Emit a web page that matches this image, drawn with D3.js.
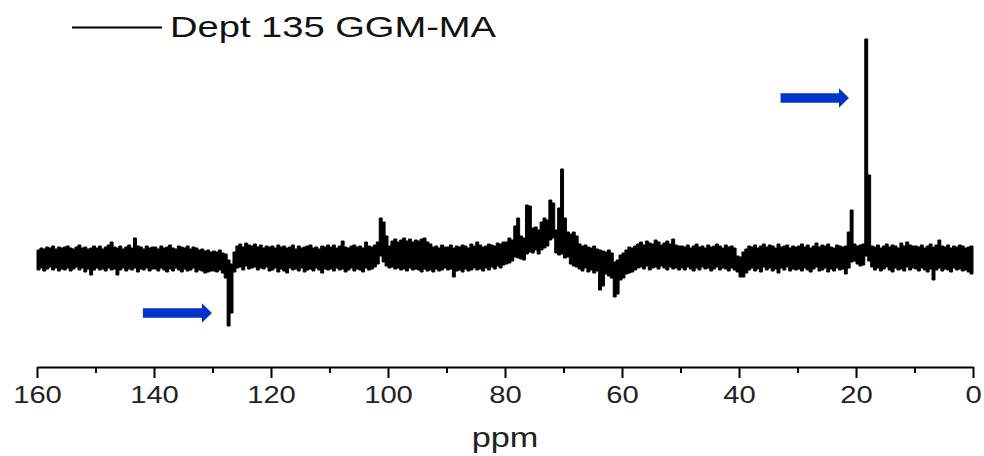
<!DOCTYPE html>
<html>
<head>
<meta charset="utf-8">
<script src="https://cdn.jsdelivr.net/npm/d3@7"></script>
<style>
  body { margin: 0; background: #fff; }
  svg { display: block; }
  text { font-family: "Liberation Sans", Arial, sans-serif; }
</style>
</head>
<body>
<svg id="chart" width="984" height="456"></svg>
<script>
// ppm grid, one bin every 0.5 ppm from 160 down to 0.5
const ppm = d3.range(160, 0, -0.5);

// upper edge of the noisy trace in each bin (arbitrary intensity), rows of 10 ppm
const upperRows = [
  [8,10,9,11,10,12,9,11,10,11,12,10,9,11,13,10,11,9,10,12],
  [10,12,9,11,13,16,11,10,12,9,11,13,10,20,12,11,9,12,10,11],
  [11,9,12,10,11,13,10,9,12,11,10,12,9,11,10,8,9,7,8,6],
  [7,6,8,5,4,-2,-6,6,12,14,11,15,13,12,14,11,13,10,12,11],
  [12,10,13,11,12,10,11,13,9,12,10,11,12,13,10,11,9,12,11,13],
  [11,13,10,12,17,11,10,12,13,11,12,10,16,12,11,13,16,40,36,22],
  [12,17,19,16,18,20,17,19,16,18,17,19,20,16,14,11,12,10,13,11],
  [11,13,10,12,11,13,12,10,14,12,16,13,11,12,14,13,12,15,14,16],
  [16,20,18,32,40,22,20,53,52,30,31,28,36,40,38,58,55,28,50,89],
  [40,26,24,26,22,14,12,13,11,10,12,9,8,7,6,8,5,-4,-2,3],
  [5,8,11,10,12,14,16,13,17,15,14,18,16,13,15,17,14,19,13,12],
  [12,11,13,10,12,14,11,12,10,13,11,12,14,12,10,13,11,12,10,2],
  [1,6,9,12,11,13,10,12,14,11,13,12,10,14,11,12,13,10,12,11],
  [12,14,11,13,10,12,15,11,13,12,14,11,10,13,12,11,12,26,48,14],
  [12,13,14,219,83,12,11,13,10,12,14,11,13,12,10,15,12,16,13,12],
  [12,11,13,10,12,14,11,13,18,12,11,13,10,12,11,13,12,10,11,12]
];

// lower edge of the noisy trace in each bin
const lowerRows = [
  [-12,-10,-13,-11,-9,-12,-10,-13,-11,-12,-10,-13,-11,-9,-12,-10,-14,-11,-17,-12],
  [-10,-12,-11,-13,-10,-12,-11,-17,-12,-10,-13,-11,-12,-10,-14,-11,-12,-10,-13,-11],
  [-11,-13,-10,-12,-14,-11,-13,-10,-12,-14,-11,-13,-12,-10,-14,-12,-13,-15,-14,-13],
  [-13,-14,-12,-15,-20,-68,-55,-14,-10,-9,-12,-8,-11,-10,-9,-12,-10,-11,-9,-13],
  [-12,-10,-14,-11,-13,-15,-10,-12,-11,-13,-10,-14,-12,-11,-13,-10,-12,-15,-11,-12],
  [-11,-13,-10,-12,-11,-14,-12,-10,-13,-11,-12,-14,-10,-12,-11,-9,-6,2,-4,-8],
  [-10,-9,-11,-10,-12,-11,-13,-10,-12,-11,-12,-14,-11,-13,-12,-14,-11,-13,-12,-10],
  [-12,-11,-19,-13,-12,-14,-11,-13,-12,-10,-12,-11,-13,-10,-12,-9,-11,-8,-10,-7],
  [-6,-5,-3,1,0,-1,-2,4,6,5,8,4,8,10,12,18,20,5,3,4],
  [0,1,-6,-8,-9,-11,-13,-10,-14,-12,-15,-13,-32,-28,-16,-18,-20,-39,-36,-22],
  [-20,-16,-15,-14,-12,-10,-9,-11,-8,-12,-10,-9,-11,-8,-10,-12,-9,-11,-10,-12],
  [-10,-12,-9,-11,-13,-10,-12,-9,-11,-10,-13,-11,-9,-12,-10,-11,-13,-10,-12,-14],
  [-19,-19,-15,-12,-10,-13,-11,-14,-9,-12,-10,-13,-11,-15,-10,-12,-9,-13,-11,-12],
  [-11,-13,-10,-12,-14,-11,-9,-13,-12,-10,-14,-11,-13,-10,-12,-11,-16,-10,-4,-3],
  [-6,-8,-7,2,-3,-9,-12,-10,-13,-11,-9,-12,-14,-10,-12,-11,-13,-9,-12,-10],
  [-11,-13,-10,-12,-14,-11,-22,-12,-10,-13,-11,-12,-14,-10,-12,-11,-13,-12,-14,-16]
];

const upper = upperRows.flat();
const lower = lowerRows.flat();

const majorTicks = [160, 140, 120, 100, 80, 60, 40, 20, 0];
const minorTicks = [150, 130, 110, 90, 70, 50, 30, 10];

const legendLabel = "Dept 135 GGM-MA";
const axisLabel = "ppm";

// arrows pointing at the two marked peaks: tip position and length in ppm
const arrows = [
  { tip: 21.2, value: 160, length: 11.7 },
  { tip: 130.1, value: -55, length: 11.8 }
];

const stretch = 1.27; // the original picture is widened horizontally

const svg = d3.select('#chart');

const x = d3.scaleLinear().domain([160, 0]).range([37, 973]);
const y = d3.scaleLinear().domain([-110, 220]).range([368, 38]);

// spectrum data, with a closing point at 0 ppm so the last step reaches the edge
const points = ppm.map((p, i) => ({ p: p, hi: upper[i], lo: lower[i] }));
points.push({ p: 0, hi: upper[upper.length - 1], lo: lower[lower.length - 1] });

const area = d3.area()
  .x(d => x(d.p))
  .y0(d => y(d.lo))
  .y1(d => y(d.hi))
  .curve(d3.curveStepAfter);

svg.append('path')
  .datum(points)
  .attr('d', area)
  .attr('fill', '#000')
  .attr('stroke', '#000')
  .attr('stroke-width', 1)
  .attr('stroke-linejoin', 'miter');

// x axis: major ticks with labels
const axisY = 367;
const gMajor = svg.append('g')
  .attr('transform', `translate(0,${axisY})`)
  .call(d3.axisBottom(x).tickValues(majorTicks).tickSize(11).tickSizeOuter(0).tickFormat(d3.format('d')));

gMajor.select('.domain').attr('stroke', '#000').attr('stroke-width', 2);
gMajor.selectAll('.tick line').attr('stroke', '#000').attr('stroke-width', 2);
gMajor.selectAll('.tick text')
  .attr('y', 36)
  .attr('dy', null)
  .attr('fill', '#222')
  .style('font-size', '23px')
  .attr('transform', `scale(${stretch},1)`);

// minor ticks
const gMinor = svg.append('g')
  .attr('transform', `translate(0,${axisY})`)
  .call(d3.axisBottom(x).tickValues(minorTicks).tickSize(6).tickSizeOuter(0).tickFormat(''));
gMinor.select('.domain').remove();
gMinor.selectAll('.tick line').attr('stroke', '#000').attr('stroke-width', 2);

// axis title
svg.append('text')
  .attr('transform', `translate(${(x.range()[0] + x.range()[1]) / 2},447) scale(${stretch},1)`)
  .attr('text-anchor', 'middle')
  .attr('fill', '#222')
  .style('font-size', '27px')
  .text(axisLabel);

// legend
svg.append('line')
  .attr('x1', 72).attr('x2', 162)
  .attr('y1', 27.5).attr('y2', 27.5)
  .attr('stroke', '#000')
  .attr('stroke-width', 2);

svg.append('text')
  .attr('transform', `translate(170,37) scale(${stretch},1)`)
  .attr('fill', '#111')
  .style('font-size', '30px')
  .text(legendLabel);

// blue arrows
const arrowColor = '#0433c9';
arrows.forEach(a => {
  const tx = x(a.tip);
  const ty = y(a.value);
  const sx = x(a.tip + a.length);
  const headLen = 10;
  const shaft = 4.7;
  const head = 9.7;
  const path = d3.path();
  path.moveTo(sx, ty - shaft);
  path.lineTo(tx - headLen, ty - shaft);
  path.lineTo(tx - headLen, ty - head);
  path.lineTo(tx, ty);
  path.lineTo(tx - headLen, ty + head);
  path.lineTo(tx - headLen, ty + shaft);
  path.lineTo(sx, ty + shaft);
  path.closePath();
  svg.append('path')
    .attr('d', path.toString())
    .attr('fill', arrowColor);
});
</script>
</body>
</html>
